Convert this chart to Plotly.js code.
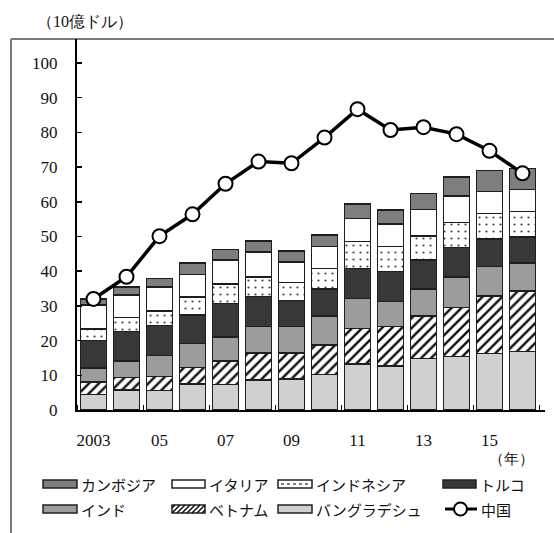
<!DOCTYPE html>
<html>
<head>
<meta charset="utf-8">
<script src="https://cdn.plot.ly/plotly-3.0.1.min.js"></script>
<style>html,body{margin:0;padding:0;background:#fff;}#chart{width:554px;height:533px;}</style>
</head>
<body>
<div id="chart"></div>
<script>
// ---- data (10億ドル) ----
const years = [2003,2004,2005,2006,2007,2008,2009,2010,2011,2012,2013,2014,2015,2016];
const tickYears = [2003,2005,2007,2009,2011,2013,2015];
const tickLabels = ['2003','05','07','09','11','13','15'];
const bangladesh = [4.5, 5.8, 5.6, 7.5, 7.4, 8.6, 8.9, 10.3, 13.3, 12.7, 14.9, 15.4, 16.3, 16.8];
const vietnam    = [3.6, 3.6, 4.0, 4.7, 6.7, 7.9, 7.6, 8.4, 10.2, 11.3, 12.2, 14.2, 16.6, 17.5];
const india      = [4.0, 4.7, 6.1, 7.0, 7.0, 7.5, 7.5, 8.4, 8.7, 7.2, 7.7, 8.8, 8.4, 8.1];
const turkey     = [8.0, 8.5, 8.6, 8.2, 9.6, 8.7, 7.5, 7.8, 8.6, 8.7, 8.4, 8.4, 8.0, 7.5];
const indonesia  = [3.3, 4.0, 4.2, 5.1, 5.6, 5.7, 5.3, 5.9, 7.7, 7.2, 7.0, 7.2, 7.4, 7.3];
const italy      = [6.8, 6.5, 7.0, 6.6, 6.9, 7.2, 5.9, 6.3, 6.7, 6.5, 7.6, 7.7, 6.2, 6.4];
const cambodia   = [1.8, 2.4, 2.4, 3.2, 3.1, 3.1, 3.1, 3.3, 4.2, 4.0, 4.6, 5.5, 6.1, 6.0];
const china      = [32.0, 38.4, 50.1, 56.4, 65.2, 71.6, 71.1, 78.5, 86.7, 80.7, 81.5, 79.5, 74.7, 68.2];

// ---- layout geometry ----
const W = 554, H = 533;
const ML = 77, MR = 9, MT = 39, MB = 123;
const PW = W - ML - MR, PH = H - MT - MB;
const px = x => (x - ML) / PW;
const py = y => (H - MB - y) / PH;

const edge = {color: '#1e1e1e', width: 1.5};
const JP = 'Noto Sans CJK JP, sans-serif';
const SERIF = 'Liberation Serif, Times New Roman, serif';

function barTrace(name, vals, fill, pattern) {
  const m = {color: fill, line: edge};
  if (pattern) m.pattern = pattern;
  return {type: 'bar', name: name, x: years, y: vals, width: 0.78, marker: m,
          showlegend: false, hoverinfo: 'name+y'};
}

const traces = [
  barTrace('バングラデシュ', bangladesh, '#d0d0d0'),
  barTrace('ベトナム', vietnam, '#ffffff', {shape: '/', fgcolor: '#111', bgcolor: '#ffffff', size: 7, solidity: 0.35}),
  barTrace('インド', india, '#9c9c9c'),
  barTrace('トルコ', turkey, '#383838'),
  barTrace('インドネシア', indonesia, '#ffffff', {shape: '.', fgcolor: '#444', bgcolor: '#ffffff', size: 7, solidity: 0.08}),
  barTrace('イタリア', italy, '#ffffff'),
  barTrace('カンボジア', cambodia, '#7e7e7e'),
  {type: 'scatter', mode: 'lines+markers', name: '中国', x: years, y: china,
   line: {color: '#000', width: 3.5},
   marker: {symbol: 'circle', size: 14, color: '#fff', line: {color: '#000', width: 2}},
   showlegend: false}
];

// ---- manual legend ----
const shapes = [];
const annotations = [];
function swatch(x0, x1, yc, fill) {
  shapes.push({type: 'rect', xref: 'paper', yref: 'paper',
    x0: px(x0), x1: px(x1), y0: py(yc + 4), y1: py(yc - 4),
    fillcolor: fill, line: {color: '#222', width: 1.5}, layer: 'above'});
}
function label(x, yc, text) {
  annotations.push({xref: 'paper', yref: 'paper', x: px(x), y: py(yc), xanchor: 'left', yanchor: 'middle',
    text: text, showarrow: false, font: {family: JP, size: 15, color: '#111'}});
}
const R1 = 484, R2 = 509;
swatch(43, 77, R1, '#7e7e7e'); label(79, R1, 'カンボジア');
swatch(172, 205, R1, '#ffffff'); label(207, R1, 'イタリア');
swatch(278, 312, R1, '#ffffff'); label(314, R1, 'インドネシア');
shapes.push({type: 'line', xref: 'paper', yref: 'paper', x0: px(281), x1: px(309), y0: py(R1), y1: py(R1),
  line: {color: '#555', width: 1.5, dash: 'dot'}, layer: 'above'});
swatch(443, 476, R1, '#383838'); label(478, R1, 'トルコ');
swatch(43, 77, R2, '#9c9c9c'); label(79, R2, 'インド');
swatch(172, 205, R2, '#ffffff'); label(207, R2, 'ベトナム');
// hatch inside vietnam swatch
(function(){
  const x0 = 172, x1 = 205, y0 = R2 - 4, y1 = R2 + 4;
  let d = '';
  for (let c = x0 + y0 + 3; c < x1 + y1; c += 5) {
    const xa = Math.max(x0, c - y1), xb = Math.min(x1, c - y0);
    if (xb <= xa) continue;
    d += 'M' + px(xa) + ',' + py(c - xa) + 'L' + px(xb) + ',' + py(c - xb);
  }
  shapes.push({type: 'path', xref: 'paper', yref: 'paper', path: d, line: {color: '#111', width: 1.5}, layer: 'above'});
})();
swatch(278, 312, R2, '#d0d0d0'); label(314, R2, 'バングラデシュ');
shapes.push({type: 'line', xref: 'paper', yref: 'paper', x0: px(445), x1: px(477), y0: py(R2), y1: py(R2),
  line: {color: '#000', width: 3}, layer: 'above'});
shapes.push({type: 'circle', xref: 'paper', yref: 'paper', x0: px(454), x1: px(467), y0: py(R2 + 6.5), y1: py(R2 - 6.5),
  fillcolor: '#fff', line: {color: '#000', width: 2}, layer: 'above'});
label(479, R2, '中国');

// outer frame (top and left)
shapes.push({type: 'line', xref: 'paper', yref: 'paper', x0: px(11), x1: px(556), y0: py(39), y1: py(39),
  line: {color: '#7a7a7a', width: 2}, layer: 'below'});
shapes.push({type: 'line', xref: 'paper', yref: 'paper', x0: px(11), x1: px(11), y0: py(39), y1: py(535),
  line: {color: '#7a7a7a', width: 2}, layer: 'below'});

// unit labels
annotations.push({xref: 'paper', yref: 'paper', x: px(35), y: py(22), xanchor: 'left', yanchor: 'middle',
  text: '（10億ドル）', showarrow: false, font: {family: SERIF, size: 16, color: '#111'}});
annotations.push({xref: 'paper', yref: 'paper', x: px(536), y: py(459), xanchor: 'right', yanchor: 'middle',
  text: '（年）', showarrow: false, font: {family: SERIF, size: 15, color: '#111'}});

const minorTicks = years.filter((y, i) => i % 2 === 0).map(y => y - 0.5).concat([years[years.length - 1] + 0.5]);

const layout = {
  width: W, height: H,
  margin: {l: ML, r: MR, t: MT, b: MB, pad: 0},
  paper_bgcolor: '#fff', plot_bgcolor: '#fff',
  barmode: 'stack', showlegend: false,
  font: {family: SERIF, size: 16, color: '#111'},
  xaxis: {
    range: [2002.5, 2002.5 + PW / 33], showgrid: false, zeroline: false,
    showline: true, linecolor: '#000', linewidth: 2,
    tickmode: 'array', tickvals: tickYears, ticktext: tickLabels, ticks: '',
    ticklabelstandoff: 14,
    tickfont: {family: SERIF, size: 17, color: '#111'},
    minor: {tickmode: 'array', tickvals: minorTicks, ticks: 'inside', ticklen: 5, tickwidth: 1, tickcolor: '#000', showgrid: false}
  },
  yaxis: {
    range: [0, PH / 3.47], showgrid: false, zeroline: false,
    showline: true, linecolor: '#000', linewidth: 2,
    tickmode: 'array', tickvals: [0,10,20,30,40,50,60,70,80,90,100],
    ticks: 'inside', ticklen: 5, tickwidth: 1.5, tickcolor: '#000',
    ticklabelstandoff: 14,
    tickfont: {family: SERIF, size: 17, color: '#111'}
  },
  shapes: shapes,
  annotations: annotations
};

Plotly.newPlot('chart', traces, layout, {displayModeBar: false, staticPlot: true});
</script>
</body>
</html>
